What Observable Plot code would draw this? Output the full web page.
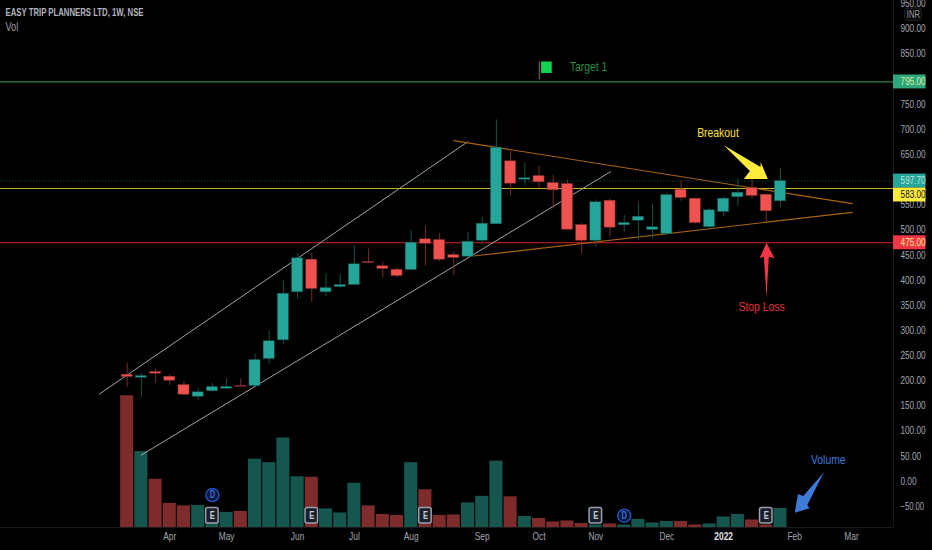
<!DOCTYPE html>
<html>
<head>
<meta charset="utf-8">
<script src="https://cdn.jsdelivr.net/npm/d3@7"></script>
<script src="https://cdn.jsdelivr.net/npm/@observablehq/plot@0.6"></script>
<style>html,body{margin:0;padding:0;background:#000;overflow:hidden}</style>
</head>
<body>
<div id="chart"></div>
<script>
const opens  = [212.5,206.5,217.9,208.5,192,168.7,179.5,184.6,190,190,243.7,280.9,376.4,441.3,376.4,387,391,436.7,428.2,421.4,420.8,481.9,480.5,450.7,447.3,479.1,511.7,637.1,600.5,607.8,593.9,591.9,510.4,479.1,558.7,509.8,518.9,500.4,492.4,580.6,562.7,505.8,536.2,565.5,584,570.6,557.5];
const closes = [207.9,209.9,214.5,200.6,172.7,177.5,188,188,188.6,241.7,279,373.7,444.1,383,385,391,432.2,434.7,422.8,408.9,475.1,473.2,441.3,444.7,477.1,512.9,664.2,592.5,603.3,595.3,579.4,501,479.1,555.5,505,514.3,526.9,505.8,570,564.1,514.3,539.6,562.7,574.6,568.1,537.6,597.7];
const highs  = [235.2,215.3,223.8,211.9,198.6,185.4,195.4,204.5,204.5,253.7,298.9,398.9,454,454,413.5,412.3,468.6,462.6,436.1,424.2,499,507.8,493.8,457.2,495.8,525.7,719.3,659.6,633.1,627.7,609.2,599.9,513.7,560.1,561.5,529.7,554.7,552.1,573.4,598.5,562.7,542.8,566.1,601.9,605.3,570.6,622.4];
const lows   = [187.4,167.5,195.4,191.4,172.7,162.2,178,184.6,188.6,190,233.8,273.6,363.1,356.6,367.1,384.4,391,434.7,405.5,405.5,420.8,428.8,437.3,409.5,447.3,470.6,511.7,568.1,588.6,583.4,542.2,501,452.7,466,485.9,495,479.1,483.1,490.5,557.5,512.4,500.4,526.9,546.8,562.1,515.7,544.2];
const volumes = [262,151,96,48,43,44,28,30,32,136,129,178,101,100,37,29,88,43,26,24,129,75,24,25,49,62,132,61,22,18,11,13,8,5,7,5,16,9,12,12,5,7,21,26,15,5,38];

const monthIdx = [3,7,12,16,20,25,29,33,38,47,51];
const monthLabels = ["Apr","May","Jun","Jul","Aug","Sep","Oct","Nov","Dec","Feb","Mar"];
const yearIdx = [42];
const yearLabels = ["2022"];
const priceTicks = [950,900,850,750,700,650,550,500,450,400,350,300,250,200,150,100,50,0,-50];

const tagValues = [795,597.7,583,475];
const tagPositions = [795,597.7,570,475];
const tagFills = ["#2fa57c","#26a69a","#ffeb3b","#f23645"];
const tagText = ["#d8f0a0","#b9e6d8","#111111","#ffe98a"];

const levelValues = [795,583,475];
const levelColors = ["#2e8035","#cbb51c","#d4202c"];
const lastPrice = [597.7];

const channelUpper = [{x:-1.95,y:174.1},{x:23.99,y:676.1}];
const channelLower = [{x:1.0,y:52.7},{x:34.04,y:616.4}];
const wedgeUpper = [{x:23,y:678.1},{x:51.06,y:552.7}];
const wedgeLower = [{x:24.4,y:448.7},{x:51.06,y:535.6}];

const breakoutArrow = [{x:42.01,y:668.9},{x:44.6,y:625.8},{x:44.6,y:635.7},{x:45.11,y:601.9},{x:43.42,y:601.9},{x:43.85,y:617.8}];
const stopArrow = [{x:45.02,y:475.1},{x:44.53,y:444.1},{x:44.83,y:447.3},{x:45.02,y:366.5},{x:45.18,y:447.3},{x:45.58,y:444.1}];
const volumeArrow = [{x:49.06,y:18.3},{x:47.89,y:-46.8},{x:48.05,y:-53.3},{x:47.01,y:-62.1},{x:47.23,y:-24.9},{x:47.61,y:-28.9}];

const notes = [
  {x:32.49,y:824.7,t:"Target 1",c:"#2f8f45"},
  {x:41.6,y:694,t:"Breakout",c:"#ffe040"},
  {x:44.67,y:348.2,t:"Stop Loss",c:"#e5303c"},
  {x:49.37,y:42.8,t:"Volume",c:"#3d7bd9"}
];
const earningsIdx = [6,13,21,33,45];
const dividendIdx = [6,35];
const earningsPos = -68, dividendPos = [-26.9,-68];
const volumeBase = -91.5;

const font = "'Liberation Sans',sans-serif";
const up = "#26a69a", down = "#f0524f", upDark = "#12524b", downDark = "#7b2a2a";
const candles = opens.map((o,i)=>({i,o,c:closes[i],h:highs[i],l:lows[i],v:volumes[i],up:closes[i]>=o}));
const poly = (pts,color)=>Plot.line(pts,{x:"x",y:"y",fill:color,stroke:"none",curve:"linear-closed"});
const seg = (pts,color,w)=>Plot.line(pts,{x:"x",y:"y",stroke:color,strokeWidth:w});

const chart = Plot.plot({
  width:932,height:550,
  marginLeft:0,marginRight:39,marginTop:0,marginBottom:23,
  style:{background:"#000",fontFamily:font,fontSize:"11px",color:"#9a9da6"},
  x:{domain:[-8.92,53.96],axis:null},
  y:{domain:[volumeBase,957],axis:null},
  marks:[
    Plot.rect(candles,{x1:d=>d.i-0.46,x2:d=>d.i+0.46,y1:volumeBase,y2:d=>volumeBase+d.v,fill:d=>d.up?"#15574f":"#7d2b2b"}),
    Plot.ruleY([volumeBase],{stroke:"#1a1a1a"}),
    Plot.ruleX([53.96],{stroke:"#1a1a1a",y1:volumeBase,y2:957}),
    Plot.axisY({anchor:"right",ticks:priceTicks,tickSize:0,tickPadding:7,tickFormat:d3.format(".2f"),label:null,fill:"#a3a6af",fontSize:10}),
    Plot.axisX({ticks:monthIdx,tickFormat:d=>monthLabels[monthIdx.indexOf(d)],tickSize:0,tickPadding:5,label:null,fill:"#a3a6af",fontSize:11}),
    Plot.axisX({ticks:yearIdx,tickFormat:d=>yearLabels[yearIdx.indexOf(d)],tickSize:0,tickPadding:5,label:null,fill:"#e0e2e8",fontWeight:"bold",fontSize:11}),
    Plot.ruleY(lastPrice,{x1:-8.92,x2:53.96,stroke:"#0d3f3a",strokeDasharray:"1.5,1.5"}),
    Plot.ruleY(levelValues,{x1:-8.92,x2:53.96,stroke:(d,i)=>levelColors[i],strokeWidth:1.2}),
    seg(channelUpper,"#a3a3a3",1),
    seg(channelLower,"#a3a3a3",1),
    seg(wedgeUpper,"#a8650a",1.2),
    seg(wedgeLower,"#a8650a",1.2),
    Plot.ruleX(candles,{x:"i",y1:"l",y2:"h",stroke:d=>d.up?upDark:downDark,strokeWidth:1}),
    Plot.rect(candles,{x1:d=>d.i-0.39,x2:d=>d.i+0.39,y1:"o",y2:"c",fill:d=>d.up?up:down,stroke:d=>d.up?upDark:downDark,strokeWidth:0.5}),
    poly(breakoutArrow,"#ffeb3b"),
    poly(stopArrow,"#f23645"),
    poly(volumeArrow,"#3d7bd9"),
    Plot.ruleX([29.03],{y1:798.9,y2:834.7,stroke:"#555",strokeWidth:1.5}),
    Plot.rect([0],{x1:29.18,x2:29.93,y1:811.8,y2:834.7,fill:"#12d24f"}),
    Plot.text(notes,{x:"x",y:"y",text:"t",fill:"c",fontSize:13}),
    Plot.rect(earningsIdx,{x1:d=>d-0.44,x2:d=>d+0.44,y1:earningsPos-15.5,y2:earningsPos+15.5,fill:"#1a1f2b",stroke:"#9aa0ac",strokeWidth:1.5,rx:2}),
    Plot.text(earningsIdx,{x:d=>d,y:earningsPos,text:()=>"E",fill:"#c8ccd4",fontWeight:"bold",fontSize:10}),
    Plot.dot(dividendIdx,{x:d=>d,y:(d,i)=>dividendPos[i],r:6.5,fill:"#0a1430",stroke:"#1e53c0",strokeWidth:1.5}),
    Plot.text(dividendIdx,{x:d=>d,y:(d,i)=>dividendPos[i],text:()=>"D",fill:"#2e6fe0",fontWeight:"bold",fontSize:10}),
    Plot.rect(tagPositions,{x1:53.96,x2:56.25,y1:d=>d-13.9,y2:d=>d+13.9,fill:(d,i)=>tagFills[i]}),
    Plot.text(tagPositions,{x:54.46,y:d=>d,text:(d,i)=>d3.format(".2f")(tagValues[i]),fill:(d,i)=>tagText[i],textAnchor:"start",fontSize:10}),
    Plot.rect([0],{x1:54.78,x2:55.95,y1:917,y2:941,fill:"#000",stroke:"#2a2a2a",rx:3}),
    Plot.text(["INR"],{x:55.36,y:929,text:d=>d,fill:"#a3a6af",fontSize:10}),
    Plot.text(["EASY TRIP PLANNERS LTD, 1W, NSE"],{frameAnchor:"top-left",dx:5,dy:8,text:d=>d,fill:"#b2b5be",fontWeight:"bold",fontSize:11,lineAnchor:"top"}),
    Plot.text(["Vol"],{frameAnchor:"top-left",dx:5,dy:22,text:d=>d,fill:"#9a9da6",fontSize:12,lineAnchor:"top"})
  ]
});
document.getElementById("chart").appendChild(chart);
// The reference uses a condensed face; condense the installed one to the same widths.
const isPrice = /^-?\d+\.\d\d$/;
const noteNames = new Set(notes.map(n=>n.t));
chart.querySelectorAll("text").forEach(t=>{
  const s = t.textContent;
  const len = t.getComputedTextLength();
  const target = s.startsWith("EASY") ? 138 : isPrice.test(s) ? len*0.82 : noteNames.has(s) ? len*0.8 : len*0.76;
  t.setAttribute("textLength",target);
  t.setAttribute("lengthAdjust","spacingAndGlyphs");
});
</script>
</body>
</html>
